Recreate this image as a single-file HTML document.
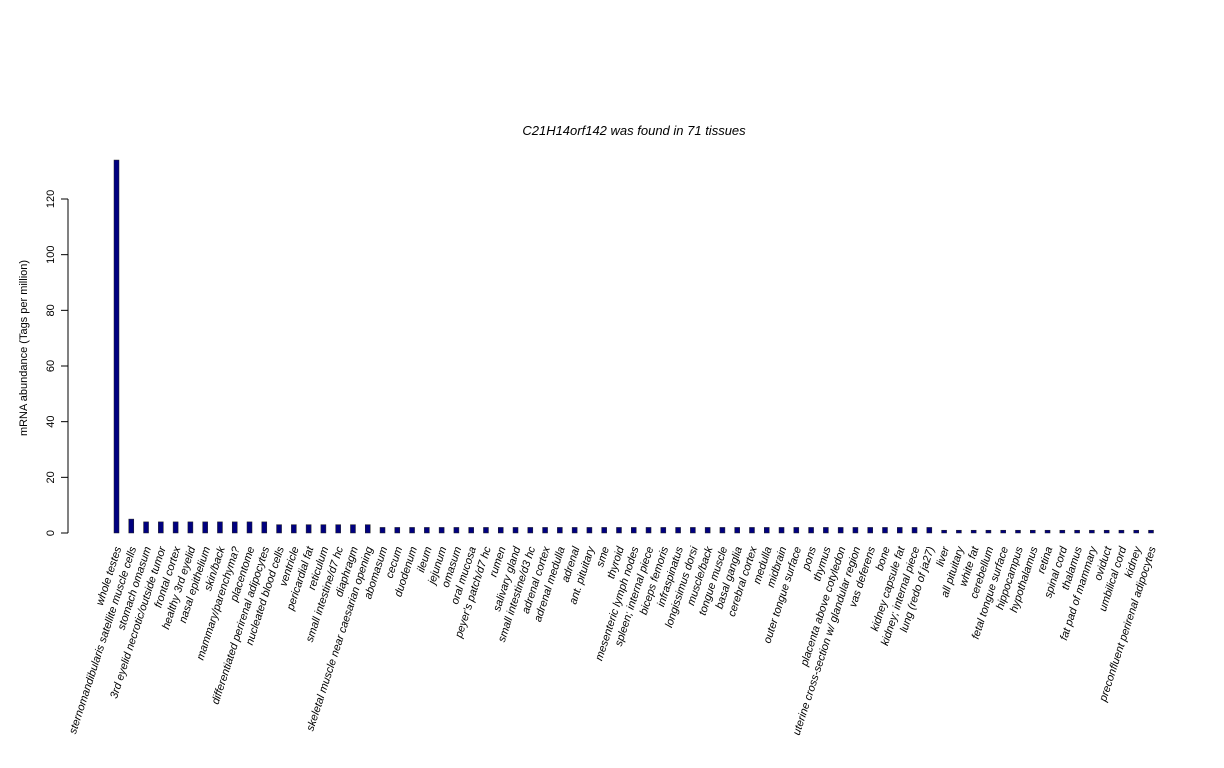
<!DOCTYPE html>
<html><head><meta charset="utf-8"><style>body{margin:0;background:#fff}svg{display:block}text{font-family:"Liberation Sans",sans-serif}</style></head>
<body>
<svg id="chart" width="1224" height="768" xmlns="http://www.w3.org/2000/svg">
<text x="634" y="135" font-size="13" font-style="italic" text-anchor="middle">C21H14orf142  was found in  71  tissues</text>
<text transform="translate(27,348) rotate(-90)" font-size="11" text-anchor="middle">mRNA abundance (Tags per million)</text>
<g id="yaxis"></g>
<g id="bars"></g>
<g id="xlabels"></g>
</svg>
<script>
const categories=["whole testes","sternomandibularis satellite muscle cells","stomach omasum","3rd eyelid necrotic/outside tumor","frontal cortex","healthy 3rd eyelid","nasal epithelium","skin/back","mammary/parenchyma?","placentome","differentiated perirenal adipocytes","nucleated blood cells","ventricle","pericardial fat","reticulum","small intestine/d7 hc","diaphragm","skeletal muscle near caesarian opening","abomasum","cecum","duodenum","ileum","jejunum","omasum","oral mucosa","peyer's patch/d7 hc","rumen","salivary gland","small intestine/d3 hc","adrenal cortex","adrenal medulla","adrenal","ant. pituitary","sme","thyroid","mesenteric lymph nodes","spleen; internal piece","biceps femoris","infraspinatus","longissimus dorsi","muscle/back","tongue muscle","basal ganglia","cerebral cortex","medulla","midbrain","outer tongue surface","pons","thymus","placenta above cotyledon","uterine cross-section w/ glandular region","vas deferens","bone","kidney capsule fat","kidney; internal piece","lung (redo of ja27)","liver","all pituitary","white fat","cerebellum","fetal tongue surface","hippocampus","hypothalamus","retina","spinal cord","thalamus","fat pad of mammary","oviduct","umbilical cord","kidney","preconfluent perirenal adipocytes"];
const values=[134,5,4,4,4,4,4,4,4,4,4,3,3,3,3,3,3,3,2,2,2,2,2,2,2,2,2,2,2,2,2,2,2,2,2,2,2,2,2,2,2,2,2,2,2,2,2,2,2,2,2,2,2,2,2,2,1,1,1,1,1,1,1,1,1,1,1,1,1,1,1];
const yTicks=[0,20,40,60,80,100,120];
const NS="http://www.w3.org/2000/svg";
const y0=533, pxPerUnit=(533-199)/120;
const yScale=v=>y0-v*pxPerUnit;
const xScale=i=>116.5+i*(1151-116.5)/(categories.length-1);
function mk(tag,attrs,parent){const e=document.createElementNS(NS,tag);for(const k in attrs)e.setAttribute(k,attrs[k]);parent.appendChild(e);return e;}
const ya=document.getElementById('yaxis');
const axl=mk('line',{x1:68,x2:68,y1:yScale(0),y2:yScale(120),stroke:'#000'},ya);


yTicks.forEach(t=>{
 const tl=mk('line',{x1:61,x2:68,y1:yScale(t),y2:yScale(t),stroke:'#000'},ya);
 
 
 const tx=mk('text',{transform:`translate(54,${yScale(t)}) rotate(-90)`,'font-size':11,'text-anchor':'middle'},ya);
 
 
 tx.textContent=t;
});
const bg=document.getElementById('bars'), lg=document.getElementById('xlabels');
categories.forEach((c,i)=>{
 const x=xScale(i), v=values[i];
 const r=mk('rect',{x:x-2.5,y:yScale(v),width:5,height:yScale(0)-yScale(v),fill:'#00007f',stroke:'#222','stroke-width':0.5},bg);
 
 
 const t=mk('text',{transform:`translate(${x+5},${548}) rotate(-72)`,'font-size':11,'font-style':'italic','text-anchor':'end'},lg);
 
 
 t.textContent=c;
});
</script>
</body></html>
